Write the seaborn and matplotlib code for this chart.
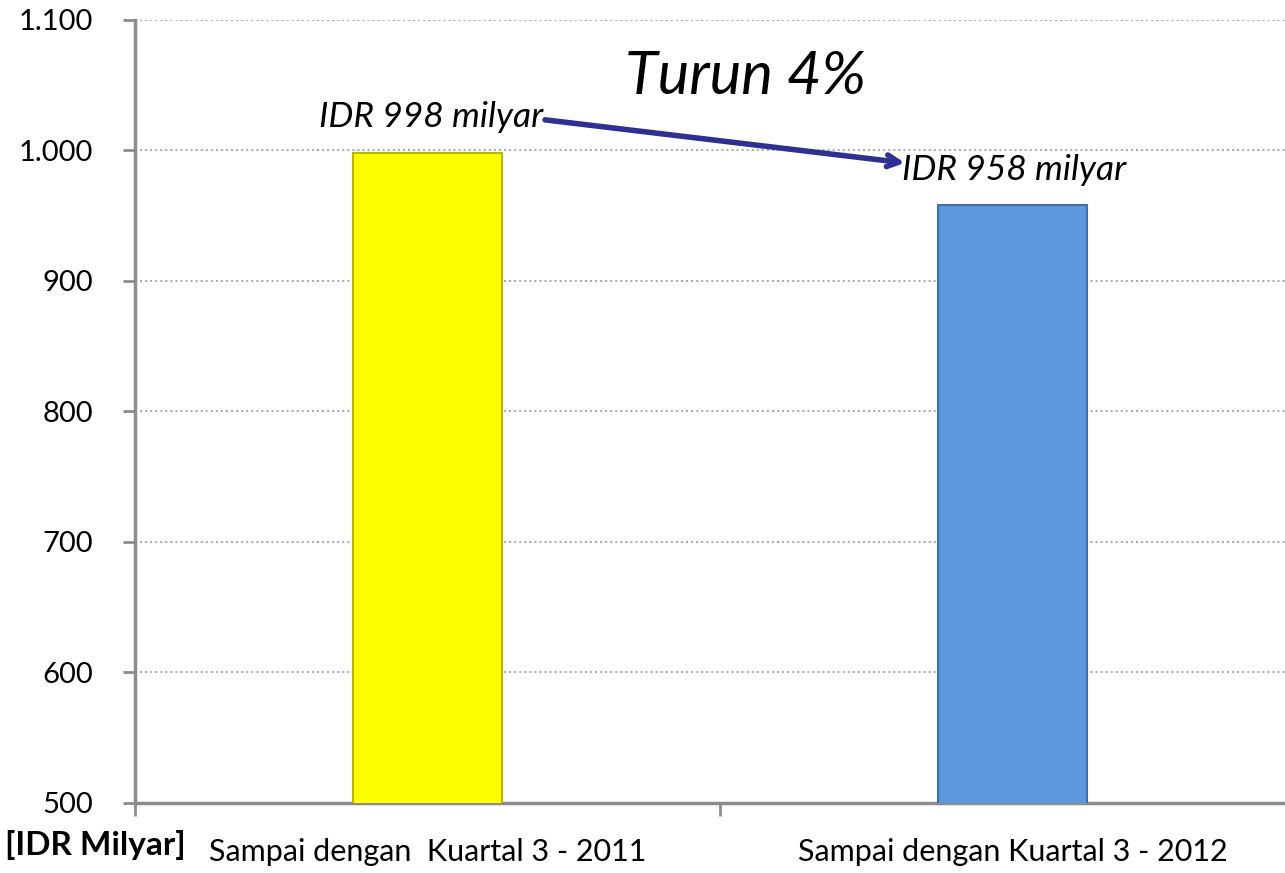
import matplotlib
matplotlib.use("Agg")
import matplotlib.pyplot as plt
import seaborn as sns
import pandas as pd

categories = ["Sampai dengan  Kuartal 3 - 2011", "Sampai dengan Kuartal 3 - 2012"]
values = [998, 958]
bar_colors = ["#FFFF00", "#5B98DE"]
edge_colors = ["#B8B800", "#3F70AA"]
yticks = [500, 600, 700, 800, 900, 1000, 1100]
ytick_labels = ["500", "600", "700", "800", "900", "1.000", "1.100"]
change_label = "Turun 4%"
unit_label = "[IDR Milyar]"

sns.set_theme(style="white")
plt.rcParams["font.family"] = ["Lato", "DejaVu Sans"]

df = pd.DataFrame({"cat": categories, "val": values})

fig = plt.figure(figsize=(12.85, 8.73), dpi=100)
ax = fig.add_axes([135 / 1285, 1 - 803 / 873, 1170 / 1285, (803 - 20) / 873])

sns.barplot(data=df, x="cat", y="val", hue="cat", palette=bar_colors, width=0.253,
            saturation=1, legend=False, ax=ax, zorder=3)
for p, ec in zip(ax.patches, edge_colors):
    p.set_edgecolor(ec)
    p.set_linewidth(1.5)

ax.set_xlim(-0.5, 1.5)
ax.set_ylim(500, 1100)
ax.set_yticks(yticks)
ax.set_yticklabels(ytick_labels, fontsize=21, color="black")
ax.set_xticks([0, 1])
ax.set_xticklabels(categories, fontsize=22, color="black")
ax.set_xticks([-0.5, 0.5, 1.5], minor=True)
ax.tick_params(axis="x", which="both", bottom=True)
ax.tick_params(axis="y", which="major", left=True)
ax.tick_params(axis="x", which="major", length=0, pad=25)
ax.tick_params(axis="x", which="minor", length=9, width=2, color="#8C8C8C", direction="out")
ax.tick_params(axis="y", length=9, width=2, color="#8C8C8C", direction="out", pad=21)
ax.set_xlabel("")
ax.set_ylabel("")

ax.yaxis.grid(True, linestyle=(0, (1, 1.6)), color="#A6A6A6", linewidth=1.4, zorder=0)
ax.xaxis.grid(False)
for s in ["top", "right"]:
    ax.spines[s].set_visible(False)
for s in ["left", "bottom"]:
    ax.spines[s].set_color("#8C8C8C")
    ax.spines[s].set_linewidth(2.5)

ax.text(0.006, 1026, f"IDR {values[0]} milyar", fontsize=25.5, style="italic",
        ha="center", va="center", color="black", zorder=5)
ax.text(1.003, 985, f"IDR {values[1]} milyar", fontsize=25.5, style="italic",
        ha="center", va="center", color="black", zorder=5)
ax.text(0.544, 1056, change_label, fontsize=43, style="italic",
        ha="center", va="center", color="black", zorder=5)
ax.annotate("", xy=(0.816, 990.5), xytext=(0.201, 1023.5),
            arrowprops=dict(arrowstyle="->,head_length=0.7,head_width=0.35",
                            color="#2E3192", lw=4, shrinkA=0, shrinkB=0), zorder=4)

fig.text(5 / 1285, 1 - 845 / 873, unit_label, fontsize=24, fontweight="bold",
         ha="left", va="center", color="black")

fig.savefig("out.png", dpi=100)
